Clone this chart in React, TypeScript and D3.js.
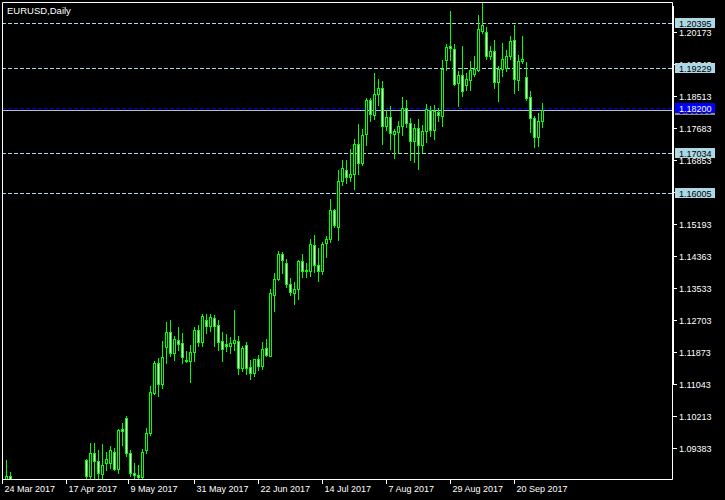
import React, { useEffect, useRef } from "react";
import * as d3 from "d3";

// EURUSD daily, bar 0 = 24 Mar 2017. Bars 3..20 are below the visible price range.
const barIndex = [1, 2, ...d3.range(21, 136)];

// prettier-ignore
const opens = [
  1.0800, 1.0865,
  1.0907, 1.0865, 1.0924, 1.0903, 1.0870, 1.0898, 1.0898, 1.0926, 1.0882, 1.0986,
  1.1016, 1.0924, 1.0872, 1.0867, 1.0861, 1.0931, 1.0976, 1.1080, 1.1158, 1.1102,
  1.1199, 1.1238, 1.1184, 1.1217, 1.1209, 1.1166, 1.1162, 1.1186, 1.1244, 1.1212,
  1.1270, 1.1253, 1.1274, 1.1256, 1.1214, 1.1206, 1.1202, 1.1210, 1.1215, 1.1145,
  1.1205, 1.1147, 1.1131, 1.1169, 1.1151, 1.1197, 1.1177, 1.1335, 1.1377, 1.1440,
  1.1417, 1.1363, 1.1339, 1.1350, 1.1423, 1.1400, 1.1396, 1.1463, 1.1411, 1.1396,
  1.1469, 1.1480, 1.1556, 1.1512, 1.1631, 1.1660, 1.1642, 1.1648, 1.1726, 1.1677,
  1.1752, 1.1842, 1.1801, 1.1855, 1.1872, 1.1772, 1.1796, 1.1753, 1.1757, 1.1772,
  1.1820, 1.1782, 1.1733, 1.1768, 1.1723, 1.1761, 1.1816, 1.1762, 1.1810, 1.1798,
  1.1944, 1.1980, 1.1973, 1.1885, 1.1906, 1.1880, 1.1893, 1.1909, 1.1918, 1.2021,
  1.2017, 1.1954, 1.1969, 1.1887, 1.1922, 1.1924, 1.1954, 1.1997, 1.1893, 1.1941,
  1.1900, 1.1848, 1.1794, 1.1745, 1.1785,
];
// prettier-ignore
const highs = [
  1.0906, 1.0874,
  1.0909, 1.0951, 1.0951, 1.0932, 1.0948, 1.0926, 1.0941, 1.0937, 1.0986, 1.1002,
  1.1019, 1.0932, 1.0898, 1.0893, 1.0934, 1.0989, 1.1099, 1.1164, 1.1171, 1.1214,
  1.1265, 1.1270, 1.1227, 1.1251, 1.1235, 1.1189, 1.1205, 1.1251, 1.1257, 1.1286,
  1.1286, 1.1286, 1.1283, 1.1270, 1.1238, 1.1234, 1.1225, 1.1296, 1.1229, 1.1203,
  1.1213, 1.1166, 1.1169, 1.1178, 1.1211, 1.1221, 1.1351, 1.1391, 1.1448, 1.1447,
  1.1428, 1.1378, 1.1368, 1.1426, 1.1442, 1.1417, 1.1480, 1.1491, 1.1456, 1.1473,
  1.1488, 1.1584, 1.1558, 1.1660, 1.1686, 1.1686, 1.1714, 1.1740, 1.1779, 1.1766,
  1.1846, 1.1847, 1.1912, 1.1896, 1.1891, 1.1816, 1.1826, 1.1765, 1.1787, 1.1849,
  1.1842, 1.1794, 1.1779, 1.1792, 1.1777, 1.1831, 1.1826, 1.1827, 1.1820, 1.1944,
  1.1987, 1.2073, 1.1987, 1.1915, 1.1982, 1.1911, 1.1943, 1.1954, 1.2062, 1.2093,
  1.2030, 1.1982, 1.1997, 1.1928, 1.1990, 1.1971, 1.2008, 1.2036, 1.1957, 1.2008,
  1.1939, 1.1865, 1.1798, 1.1807, 1.1833,
];
// prettier-ignore
const lows = [
  1.0790, 1.0800,
  1.0855, 1.0850, 1.0857, 1.0851, 1.0855, 1.0880, 1.0885, 1.0879, 1.0873, 1.0945,
  1.0915, 1.0863, 1.0852, 1.0850, 1.0852, 1.0924, 1.0970, 1.1078, 1.1073, 1.1094,
  1.1159, 1.1175, 1.1166, 1.1192, 1.1159, 1.1161, 1.1108, 1.1164, 1.1201, 1.1203,
  1.1236, 1.1240, 1.1203, 1.1192, 1.1164, 1.1188, 1.1185, 1.1192, 1.1130, 1.1138,
  1.1130, 1.1117, 1.1125, 1.1140, 1.1143, 1.1177, 1.1177, 1.1292, 1.1374, 1.1391,
  1.1355, 1.1335, 1.1312, 1.1325, 1.1381, 1.1381, 1.1383, 1.1394, 1.1370, 1.1390,
  1.1433, 1.1471, 1.1511, 1.1478, 1.1619, 1.1625, 1.1631, 1.1610, 1.1649, 1.1671,
  1.1723, 1.1785, 1.1792, 1.1829, 1.1727, 1.1764, 1.1714, 1.1690, 1.1706, 1.1749,
  1.1770, 1.1686, 1.1681, 1.1662, 1.1706, 1.1731, 1.1746, 1.1740, 1.1785, 1.1772,
  1.1918, 1.1945, 1.1880, 1.1824, 1.1850, 1.1866, 1.1867, 1.1902, 1.1915, 1.2015,
  1.1948, 1.1947, 1.1873, 1.1837, 1.1902, 1.1915, 1.1948, 1.1860, 1.1866, 1.1937,
  1.1842, 1.1758, 1.1719, 1.1720, 1.1771,
];
// prettier-ignore
const closes = [
  1.0865, 1.0815,
  1.0865, 1.0924, 1.0902, 1.0872, 1.0893, 1.0908, 1.0932, 1.0883, 1.0984, 1.0981,
  1.0924, 1.0872, 1.0866, 1.0862, 1.0926, 1.0976, 1.1082, 1.1159, 1.1102, 1.1173,
  1.1238, 1.1184, 1.1220, 1.1208, 1.1173, 1.1163, 1.1186, 1.1244, 1.1212, 1.1280,
  1.1253, 1.1277, 1.1255, 1.1212, 1.1194, 1.1203, 1.1210, 1.1217, 1.1145, 1.1197,
  1.1145, 1.1133, 1.1169, 1.1151, 1.1195, 1.1179, 1.1339, 1.1377, 1.1442, 1.1424,
  1.1364, 1.1343, 1.1350, 1.1423, 1.1396, 1.1396, 1.1467, 1.1411, 1.1396, 1.1467,
  1.1480, 1.1556, 1.1515, 1.1631, 1.1664, 1.1642, 1.1649, 1.1726, 1.1677, 1.1751,
  1.1842, 1.1804, 1.1856, 1.1872, 1.1772, 1.1796, 1.1755, 1.1761, 1.1772, 1.1820,
  1.1782, 1.1733, 1.1768, 1.1725, 1.1761, 1.1817, 1.1762, 1.1811, 1.1803, 1.1922,
  1.1978, 1.1977, 1.1882, 1.1906, 1.1863, 1.1896, 1.1919, 1.1922, 1.2025, 1.2036,
  1.1954, 1.1969, 1.1887, 1.1922, 1.1947, 1.1956, 1.1995, 1.1895, 1.1943, 1.1948,
  1.1847, 1.1794, 1.1745, 1.1785, 1.1815,
];

const priceTicks = [
  1.20173, 1.19343, 1.18513, 1.17683, 1.16853, 1.16023, 1.15193, 1.14363,
  1.13533, 1.12703, 1.11873, 1.11043, 1.10213, 1.09383,
];
const levelLines = [1.20395, 1.19229, 1.17034, 1.16005];
const markerLine = 1.182;

const timeLabels = [
  "24 Mar 2017", "17 Apr 2017", "9 May 2017", "31 May 2017", "22 Jun 2017",
  "14 Jul 2017", "7 Aug 2017", "29 Aug 2017", "20 Sep 2017",
];
const timeTickBars = [0, 16, 31.5, 48, 64, 80, 96, 112, 128];

const W = 725;
const H = 500;
const FONT = "'Liberation Sans', Arial, sans-serif";

const App: React.FC = () => {
  const svgRef = useRef<SVGSVGElement>(null);

  useEffect(() => {
    if (!svgRef.current) return;
    const svg = d3.select(svgRef.current);
    svg.selectAll("*").remove();

    const left = 2;
    const right = 672;
    const top = 2;
    const bottom = 479;

    const x = d3.scaleLinear().domain([0, 1]).range([left, left + 4]);
    const y = d3.scaleLinear().domain([1.09383, 1.20173]).range([447.5, 32]);
    const py = (v: number) => Math.round(y(v)) + 0.5;

    svg.append("rect").attr("width", W).attr("height", H).attr("fill", "#000");

    svg
      .append("defs")
      .append("clipPath")
      .attr("id", "plot")
      .append("rect")
      .attr("x", left + 1)
      .attr("y", top + 1)
      .attr("width", right - left - 1)
      .attr("height", bottom - top - 1);

    const plot = svg.append("g").attr("clip-path", "url(#plot)");

    // horizontal level lines
    levelLines.forEach((v) => {
      plot
        .append("line")
        .attr("x1", left)
        .attr("x2", right)
        .attr("y1", py(v))
        .attr("y2", py(v))
        .attr("stroke", "#add8e6")
        .attr("stroke-dasharray", "4,2");
    });
    const bid = closes[closes.length - 1];
    plot
      .append("line")
      .attr("x1", left)
      .attr("x2", right)
      .attr("y1", py(markerLine))
      .attr("y2", py(markerLine))
      .attr("stroke", "#0000ff")
      .attr("stroke-dasharray", "4,2");
    plot
      .append("line")
      .attr("x1", left)
      .attr("x2", right)
      .attr("y1", py(bid))
      .attr("y2", py(bid))
      .attr("stroke", "#c0c0c0");

    // candles
    const candles = plot
      .selectAll("g.candle")
      .data(barIndex.map((b, k) => ({ b, o: opens[k], h: highs[k], l: lows[k], c: closes[k] })))
      .enter()
      .append("g")
      .attr("class", "candle");

    candles
      .append("line")
      .attr("x1", (d) => Math.round(x(d.b)) + 0.5)
      .attr("x2", (d) => Math.round(x(d.b)) + 0.5)
      .attr("y1", (d) => Math.round(y(d.h)))
      .attr("y2", (d) => Math.round(y(d.l)) + 1)
      .attr("stroke", "#00ff00");

    candles
      .append("rect")
      .attr("x", (d) => Math.round(x(d.b)) - 0.5)
      .attr("width", 2)
      .attr("y", (d) => py(Math.max(d.o, d.c)))
      .attr("height", (d) => Math.max(0, py(Math.min(d.o, d.c)) - py(Math.max(d.o, d.c))))
      .attr("fill", (d) => (d.c >= d.o ? "#000" : "#fff"))
      .attr("stroke", "#00ff00");

    // frame
    const frame = svg.append("g").attr("stroke", "#fff").attr("fill", "none");
    frame.append("path").attr("d", `M${left + 0.5},${bottom + 0.5}V${top + 0.5}H${right + 0.5}V${bottom + 0.5}Z`);
    frame.append("line").attr("x1", right + 1.5).attr("x2", right + 1.5).attr("y1", 6).attr("y2", 384);

    // price axis
    const axis = svg.append("g").attr("font-family", FONT).attr("font-size", 9);
    priceTicks.forEach((v) => {
      axis
        .append("line")
        .attr("x1", right)
        .attr("x2", right + 5)
        .attr("y1", py(v))
        .attr("y2", py(v))
        .attr("stroke", "#fff");
      axis
        .append("text")
        .attr("x", right + 7)
        .attr("y", py(v) + 3.5)
        .attr("fill", "#fff")
        .text(v.toFixed(5));
    });

    const tag = (v: number, bg: string, fg: string) => {
      axis
        .append("rect")
        .attr("x", right + 3)
        .attr("y", py(v) - 5.5)
        .attr("width", 40)
        .attr("height", 10)
        .attr("fill", bg);
      axis
        .append("text")
        .attr("x", right + 7)
        .attr("y", py(v) + 3.5)
        .attr("fill", fg)
        .text(v.toFixed(5));
    };
    levelLines.forEach((v) => tag(v, "#add8e6", "#000"));
    tag(bid, "#8c8c8c", "#000");
    tag(markerLine, "#0000ff", "#fff");

    // time axis
    timeLabels.forEach((label, k) => {
      const tx = Math.round(x(timeTickBars[k])) + 0.5;
      axis
        .append("line")
        .attr("x1", tx)
        .attr("x2", tx)
        .attr("y1", bottom)
        .attr("y2", bottom + 5)
        .attr("stroke", "#fff");
      axis
        .append("text")
        .attr("x", tx + 2)
        .attr("y", bottom + 13)
        .attr("fill", "#fff")
        .text(label);
    });

    svg
      .append("text")
      .attr("x", 7)
      .attr("y", 14)
      .attr("font-family", FONT)
      .attr("font-size", 9.5)
      .attr("fill", "#fff")
      .text("EURUSD,Daily");
  }, []);

  return (
    <svg
      ref={svgRef}
      width={W}
      height={H}
      style={{ position: "fixed", left: 0, top: 0, display: "block" }}
    />
  );
};

export default App;
